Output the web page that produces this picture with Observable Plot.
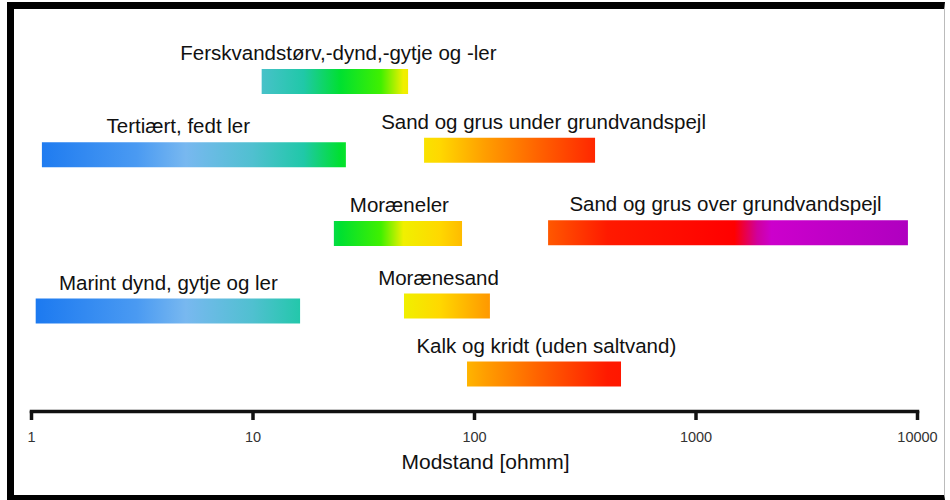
<!DOCTYPE html>
<html>
<head>
<meta charset="utf-8">
<script src="https://cdn.jsdelivr.net/npm/d3@7"></script>
<script src="https://cdn.jsdelivr.net/npm/@observablehq/plot@0.6"></script>
<style>
  html, body { margin: 0; padding: 0; background: white; }
  #wrap { position: relative; width: 950px; height: 500px; overflow: hidden; }
  #border { position: absolute; left: 7px; top: 2px; width: 938px; height: 498px; box-sizing: border-box;
    border-top: 7px solid #000; border-left: 7px solid #000; border-bottom: 5px solid #000; border-right: 1px solid #bbb;
    pointer-events: none; }
</style>
</head>
<body>
<div id="wrap"><div id="border"></div></div>
<script>
// Layer names (Danish), resistivity range in ohmm, display row, label anchor (ohmm)
const names = [
  "Ferskvandstørv,-dynd,-gytje og -ler",
  "Tertiært, fedt ler",
  "Sand og grus under grundvandspejl",
  "Moræneler",
  "Sand og grus over grundvandspejl",
  "Marint dynd, gytje og ler",
  "Morænesand",
  "Kalk og kridt (uden saltvand)"
];
const lows  = [11,   1.12, 59.5, 23.3, 216,  1.05, 48.3, 93];
const highs = [50.4, 26.4, 352,  88.3, 9100, 16.4, 118,  461];
const rows  = [0, 1.0, 0.94, 2.08, 2.07, 3.14, 3.07, 4];
const labelAt = [24.3, 4.6, 205, 45.8, 1359, 4.15, 68.8, 211];

// Colour ramp along the resistivity axis
const stopValues = [1, 3, 5, 10, 17, 25, 38, 48, 70, 110, 200, 400, 1500, 1900, 2200, 9000];
const stopColors = ["#1a78f0", "#4a9af2", "#78b8f0", "#50c0d0", "#20c8a8", "#00e030", "#40f000", "#f0f000",
                    "#ffd800", "#ffa000", "#ff6000", "#ff1a00", "#ff0000", "#d0009c", "#cc00cc", "#b000c0"];

const tickValues = [1, 10, 100, 1000, 10000];
const axisTitle = "Modstand [ohmm]";

const data = names.map((n, i) => ({name: n, lo: lows[i], hi: highs[i], row: rows[i], lx: labelAt[i]}));

const chart = Plot.plot({
  width: 950,
  height: 500,
  marginLeft: 31,
  marginRight: 33,
  marginTop: 20,
  marginBottom: 89,
  style: {fontFamily: "'Liberation Sans', Arial, sans-serif", background: "transparent", color: "#111"},
  x: {type: "log", domain: [1, 10000]},
  y: {domain: [0, 4], range: [81, 373.5], axis: null},
  marks: [
    Plot.ruleY(data, {y: "row", x1: "lo", x2: "hi", stroke: "url(#resgrad)", strokeWidth: 25}),
    Plot.text(data, {x: "lx", y: "row", text: "name", dy: -28, fontSize: 20.5, fill: "#111"}),
    Plot.frame({anchor: "bottom", stroke: "#111", strokeWidth: 3.5}),
    Plot.axisX({ticks: tickValues, tickFormat: d => String(d), tickSize: 9, tickPadding: 11,
                strokeWidth: 3.5, stroke: "#111", fontSize: 14.5, fill: "#333", label: null}),
    Plot.text([axisTitle], {frameAnchor: "bottom", dy: 57, dx: 11, fontSize: 21, fill: "#111"})
  ]
});

// Horizontal gradient in user space, so colour follows resistivity on the x scale
const xs = chart.scale("x");
const ns = "http://www.w3.org/2000/svg";
const defs = document.createElementNS(ns, "defs");
const grad = document.createElementNS(ns, "linearGradient");
const gx1 = xs.apply(1), gx2 = xs.apply(10000);
grad.setAttribute("id", "resgrad");
grad.setAttribute("gradientUnits", "userSpaceOnUse");
grad.setAttribute("x1", gx1); grad.setAttribute("x2", gx2);
grad.setAttribute("y1", 0); grad.setAttribute("y2", 0);
stopValues.forEach((v, i) => {
  const s = document.createElementNS(ns, "stop");
  s.setAttribute("offset", (xs.apply(v) - gx1) / (gx2 - gx1));
  s.setAttribute("stop-color", stopColors[i]);
  grad.appendChild(s);
});
defs.appendChild(grad);
chart.insertBefore(defs, chart.firstChild);

document.getElementById("wrap").prepend(chart);
</script>
</body>
</html>
